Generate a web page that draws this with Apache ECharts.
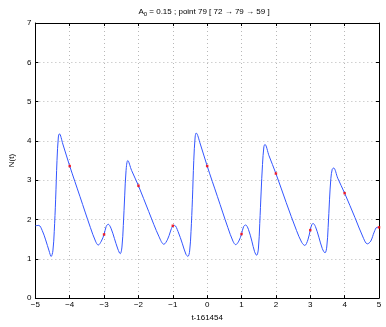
<!DOCTYPE html>
<html>
<head>
<meta charset="utf-8">
<script src="https://cdn.jsdelivr.net/npm/echarts@6/dist/echarts.min.js"></script>
<style>
  html, body { margin: 0; padding: 0; background: #fff; }
  #chart { width: 386px; height: 327px; }
</style>
</head>
<body>
<div id="chart"></div>
<script>
// curve N(t)
const tx = [-5.00, -4.90, -4.80, -4.70, -4.60, -4.54, -4.49, -4.45, -4.41, -4.37, -4.33, -4.30, -4.20, -4.00, -3.70, -3.40, -3.25, -3.17, -3.08,
  -3.00, -2.94, -2.88, -2.80, -2.70, -2.60, -2.53, -2.48, -2.44, -2.40, -2.36, -2.31, -2.20, -2.00, -1.70, -1.40, -1.26, -1.15, -1.00,
  -0.95, -0.85, -0.72, -0.62, -0.56, -0.51, -0.47, -0.43, -0.39, -0.35, -0.32, -0.20, 0.00, 0.30, 0.60, 0.75, 0.83, 0.92, 1.00,
  1.06, 1.12, 1.20, 1.30, 1.38, 1.44, 1.49, 1.53, 1.57, 1.61, 1.65, 1.68, 1.80, 2.00, 2.30, 2.60, 2.75, 2.84, 2.93,
  3.00, 3.04, 3.08, 3.15, 3.25, 3.35, 3.43, 3.48, 3.52, 3.56, 3.60, 3.64, 3.68, 3.80, 4.00, 4.30, 4.55, 4.66, 4.76,
  4.86, 4.94, 5.00];
const ny = [1.84, 1.85, 1.72, 1.48, 1.20, 1.06, 1.20, 1.70, 2.50, 3.50, 4.10, 4.18, 3.92, 3.36, 2.58, 1.80, 1.45, 1.35, 1.45,
  1.62, 1.82, 1.88, 1.78, 1.52, 1.25, 1.13, 1.30, 1.85, 2.60, 3.25, 3.50, 3.25, 2.86, 2.20, 1.56, 1.37, 1.50, 1.84,
  1.85, 1.70, 1.38, 1.12, 1.06, 1.20, 1.70, 2.50, 3.50, 4.10, 4.20, 3.92, 3.36, 2.58, 1.80, 1.45, 1.36, 1.45, 1.63,
  1.82, 1.86, 1.75, 1.45, 1.18, 1.09, 1.25, 1.90, 2.70, 3.40, 3.85, 3.91, 3.62, 3.17, 2.43, 1.72, 1.42, 1.34, 1.48,
  1.73, 1.86, 1.90, 1.82, 1.55, 1.26, 1.15, 1.30, 1.80, 2.50, 3.05, 3.28, 3.31, 3.05, 2.67, 2.05, 1.52, 1.38, 1.45,
  1.68, 1.80, 1.80];

// red marks at the integer times
const dotX = [-4, -3, -2, -1, 0, 1, 2, 3, 4, 5];
const dotY = [3.36, 1.62, 2.86, 1.84, 3.36, 1.63, 3.17, 1.73, 2.67, 1.80];

const chart = echarts.init(document.getElementById("chart"));
const font = "Liberation Sans, Arial, Helvetica, sans-serif";
const gridLine = { show: true, lineStyle: { color: "#b8b8b8", width: 1, type: [1, 3] } };
const axisLine = { show: true, onZero: false, lineStyle: { color: "#000", width: 1 } };

const curve = tx.map((x, i) => [x, ny[i]]);
const dots = dotX.map((x, i) => [x, dotY[i]]);

chart.setOption({
  animation: false,
  title: {
    text: "{a|A}{s|0}{a| = 0.15 ; point 79 [ 72 \u2192 79 \u2192 59 ]}",
    left: 199,
    top: 2,
    textAlign: "center",
    textStyle: {
      fontWeight: "normal",
      rich: {
        a: { fontFamily: font, fontSize: 8, fontWeight: "normal", color: "#000" },
        s: { fontFamily: font, fontSize: 6, fontWeight: "normal", color: "#000", verticalAlign: "bottom", padding: [4, 0, 0, 0] }
      }
    }
  },
  grid: { left: 21, right: 7, top: 23, bottom: 23 },
  xAxis: [
    {
      type: "value", min: -5, max: 5, interval: 1,
      axisLine: axisLine,
      axisTick: { show: true, inside: true, length: 3, lineStyle: { color: "#000" } },
      axisLabel: {
        fontFamily: font, fontSize: 8, color: "#000", margin: 3,
        formatter: v => (v < 0 ? "\u2212" + Math.abs(v) : String(v)),
        showMinLabel: true, showMaxLabel: true
      },
      splitLine: gridLine,
      name: "t-161454", nameLocation: "middle", nameGap: 15,
      nameTextStyle: { fontFamily: font, fontSize: 8, color: "#000" }
    },
    {
      type: "value", position: "top", min: -5, max: 5, interval: 1,
      axisLine: axisLine,
      axisTick: { show: true, inside: true, length: 3, lineStyle: { color: "#000" } },
      axisLabel: { show: false }, splitLine: { show: false }
    }
  ],
  yAxis: [
    {
      type: "value", min: 0, max: 7, interval: 1,
      axisLine: axisLine,
      axisTick: { show: true, inside: true, length: 3, lineStyle: { color: "#000" } },
      axisLabel: { fontFamily: font, fontSize: 8, color: "#000", margin: 4 },
      splitLine: gridLine,
      name: "N(t)", nameLocation: "middle", nameGap: 16, nameRotate: 90,
      nameTextStyle: { fontFamily: font, fontSize: 8, color: "#000" }
    },
    {
      type: "value", position: "right", min: 0, max: 7, interval: 1,
      axisLine: axisLine,
      axisTick: { show: true, inside: true, length: 3, lineStyle: { color: "#000" } },
      axisLabel: { show: false }, splitLine: { show: false }
    }
  ],
  series: [
    {
      type: "line",
      data: curve,
      smooth: 0.35,
      showSymbol: false,
      lineStyle: { color: "#3355ff", width: 1 },
      z: 3
    },
    {
      type: "scatter",
      data: dots,
      symbol: "rect",
      symbolSize: 2.5,
      itemStyle: { color: "#ff0000" },
      z: 4
    }
  ]
});
</script>
</body>
</html>
